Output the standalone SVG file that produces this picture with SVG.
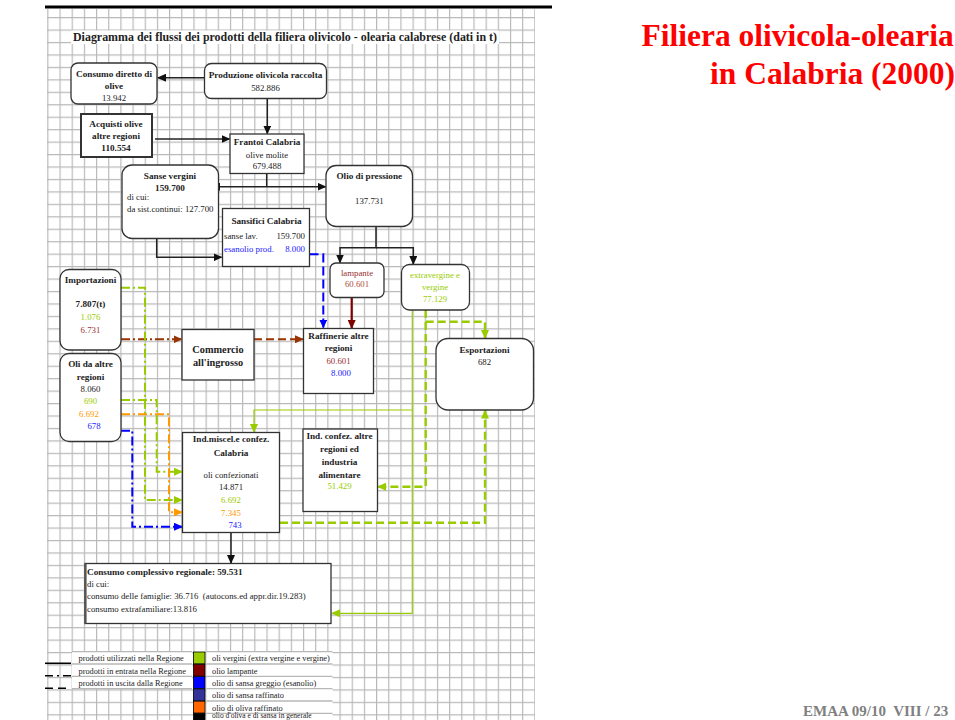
<svg xmlns="http://www.w3.org/2000/svg" width="955" height="720" viewBox="0 0 955 720">
<style>
text{font-family:"Liberation Serif","Times New Roman",serif;fill:#222}
.b{font-weight:bold;font-size:9.2px}
.r{font-size:8.8px}
.m{text-anchor:middle}
.e{text-anchor:end}
.g{fill:#99cc00}
.o{fill:#ff9900}
.bl{fill:#2222ff}
.dr{fill:#993333}
.box{fill:#fff;stroke:#333;stroke-width:1.3}
.k{fill:none;stroke:#222;stroke-width:1.5}
.lg{font-size:8.3px}
</style>
<defs>
<pattern id="grid" width="12.175" height="12.45" patternUnits="userSpaceOnUse" x="47.3" y="4.6">
<path d="M0,0.5H12.175M0.5,0V12.45" fill="none" stroke="#b8b8b8" stroke-width="1.3"/>
</pattern>
<marker id="ak" markerWidth="9" markerHeight="8" refX="8" refY="4" orient="auto" markerUnits="userSpaceOnUse"><path d="M0,0L9,4L0,8z" fill="#111"/></marker>
<marker id="akr" markerWidth="9" markerHeight="8" refX="1" refY="4" orient="auto-start-reverse" markerUnits="userSpaceOnUse"><path d="M0,0L9,4L0,8z" fill="#111"/></marker>
<marker id="ag" markerWidth="9" markerHeight="8" refX="8" refY="4" orient="auto" markerUnits="userSpaceOnUse"><path d="M0,0L9,4L0,8z" fill="#99cc00"/></marker>
<marker id="ao" markerWidth="9" markerHeight="8" refX="8" refY="4" orient="auto" markerUnits="userSpaceOnUse"><path d="M0,0L9,4L0,8z" fill="#ff9900"/></marker>
<marker id="ab" markerWidth="9" markerHeight="8" refX="8" refY="4" orient="auto" markerUnits="userSpaceOnUse"><path d="M0,0L9,4L0,8z" fill="#0000ff"/></marker>
<marker id="ad" markerWidth="9" markerHeight="8" refX="8" refY="4" orient="auto" markerUnits="userSpaceOnUse"><path d="M0,0L9,4L0,8z" fill="#800000"/></marker>
<marker id="an" markerWidth="9" markerHeight="8" refX="8" refY="4" orient="auto" markerUnits="userSpaceOnUse"><path d="M0,0L9,4L0,8z" fill="#993300"/></marker>
</defs>
<rect width="955" height="720" fill="#fff"/>
<rect x="47" y="9" width="488" height="711" fill="url(#grid)"/>
<rect x="45" y="5.5" width="507" height="3" fill="#000"/>
<rect x="71" y="30.5" width="428" height="13.5" fill="#fff"/>
<text x="73" y="41" style="font-weight:bold;font-size:11.8px" textLength="424" lengthAdjust="spacingAndGlyphs">Diagramma dei flussi dei prodotti della filiera olivicolo - olearia calabrese (dati in t)</text>

<g id="connectors">
<path class="k" d="M204.5,77.7H158" marker-end="url(#ak)"/>
<path class="k" d="M267.3,98.5V133.5" marker-end="url(#ak)"/>
<path class="k" d="M155,139H229.5" marker-end="url(#ak)"/>
<path class="k" d="M266.7,173.5V186.7"/>
<path class="k" d="M219,186.7H325.5" marker-start="url(#akr)" marker-end="url(#ak)"/>
<path class="k" d="M156.7,238.5V257.3H221.5" marker-end="url(#ak)"/>
<path class="k" d="M376,227V247.7H340V262.5" marker-end="url(#ak)"/>
<path class="k" d="M376,247.7H413.3V264" marker-end="url(#ak)"/>
<path d="M309.5,254.3H323.3V327.5" fill="none" stroke="#0000ff" stroke-width="2" stroke-dasharray="9,4" marker-end="url(#ab)"/>
<path d="M351.7,297.5V328" fill="none" stroke="#800000" stroke-width="2.2" marker-end="url(#ad)"/>
<path d="M121,339.3H181.5" fill="none" stroke="#993300" stroke-width="2" stroke-dasharray="9,3,2,3" marker-end="url(#an)"/>
<path d="M254,339.3H303" fill="none" stroke="#993300" stroke-width="2" stroke-dasharray="8,4" marker-end="url(#an)"/>
<path d="M121,287.7H145V500H182" fill="none" stroke="#99cc00" stroke-width="2" stroke-dasharray="9,3,2,3" marker-end="url(#ag)"/>
<path d="M121,400H156.7V471.7H182" fill="none" stroke="#99cc00" stroke-width="2" stroke-dasharray="9,3,2,3" marker-end="url(#ag)"/>
<path d="M121,414.3H169V512.3H182" fill="none" stroke="#ff9900" stroke-width="2" stroke-dasharray="9,3,2,3" marker-end="url(#ao)"/>
<path d="M121,430.7H132.3V526.7H182" fill="none" stroke="#0000ff" stroke-width="2" stroke-dasharray="9,3,2,3" marker-end="url(#ab)"/>
<path d="M412.3,310V613.3H332" fill="none" stroke="#99cc00" stroke-width="1.2" marker-end="url(#ag)"/>
<path d="M412.3,410H254V432" fill="none" stroke="#99cc00" stroke-width="1.2" marker-end="url(#ag)"/>
<path d="M425.7,310V486.7H378" fill="none" stroke="#99cc00" stroke-width="2.4" stroke-dasharray="8,4" marker-end="url(#ag)"/>
<path d="M425.7,321.7H485V338" fill="none" stroke="#99cc00" stroke-width="2.4" stroke-dasharray="8,4" marker-end="url(#ag)"/>
<path d="M280,522.7H485V410.5" fill="none" stroke="#99cc00" stroke-width="2.4" stroke-dasharray="8,4" marker-end="url(#ag)"/>
<path class="k" d="M231,533V563" marker-end="url(#ak)"/>
</g>

<g id="consumo-diretto">
<rect class="box" x="71" y="63" width="86" height="41" rx="7"/>
<text class="b m" x="114" y="76.5">Consumo diretto di</text>
<text class="b m" x="114" y="89">olive</text>
<text class="r m" x="114" y="101">13.942</text>
</g>
<g id="produzione">
<rect class="box" x="204.5" y="63.5" width="122" height="35" rx="7"/>
<text class="b m" x="265.5" y="78">Produzione olivicola raccolta</text>
<text class="r m" x="265.5" y="91">582.886</text>
</g>
<g id="acquisti">
<rect class="box" x="81" y="114" width="71" height="43" style="stroke-width:2"/>
<text class="b m" x="116" y="126.5">Acquisti olive</text>
<text class="b m" x="116" y="139">altre regioni</text>
<text class="b m" x="116" y="150.5">110.554</text>
</g>
<g id="frantoi">
<rect class="box" x="230" y="134" width="74" height="39.5"/>
<text class="b m" x="267" y="145">Frantoi Calabria</text>
<text class="r m" x="267" y="158">olive molite</text>
<text class="r m" x="267" y="169">679.488</text>
</g>
<g id="sanse-vergini">
<rect class="box" x="122" y="165" width="96.5" height="73.5" rx="10"/>
<text class="b m" x="170" y="179">Sanse vergini</text>
<text class="b m" x="170" y="191">159.700</text>
<text class="r" x="127" y="200">di cui:</text>
<text class="r" x="127" y="212">da sist.continui: 127.700</text>
</g>
<g id="olio-pressione">
<rect class="box" x="326" y="165.5" width="86.5" height="61" rx="10"/>
<text class="b m" x="369.3" y="179">Olio di pressione</text>
<text class="r m" x="369.3" y="204">137.731</text>
</g>
<g id="sansifici">
<rect class="box" x="222.5" y="208.5" width="87" height="58"/>
<text class="b m" x="266.5" y="224">Sansifici Calabria</text>
<text class="r" x="224" y="239">sanse lav.</text>
<text class="r e" x="305" y="239">159.700</text>
<text class="r bl" x="224" y="251.5">esanolio prod.</text>
<text class="r e bl" x="305" y="251.5">8.000</text>
</g>
<g id="lampante">
<rect class="box" x="330" y="263" width="54" height="34.5" rx="6"/>
<text class="r m dr" x="357" y="275.5">lampante</text>
<text class="r m" x="357" y="287" style="fill:#b0503a">60.601</text>
</g>
<g id="extravergine">
<rect class="box" x="401.5" y="264.5" width="68" height="45.5" rx="8"/>
<text class="r m g" x="435" y="278">extravergine e</text>
<text class="r m g" x="435" y="289.5">vergine</text>
<text class="r m g" x="435" y="301.5">77.129</text>
</g>
<g id="importazioni">
<rect class="box" x="60" y="269.5" width="61" height="80.5" rx="9"/>
<text class="b m" x="90.5" y="283">Importazioni</text>
<text class="b m" x="90.5" y="306.5">7.807(t)</text>
<text class="r m g" x="90.5" y="320">1.076</text>
<text class="r m dr" x="90.5" y="333">6.731</text>
</g>
<g id="oli-altre-regioni">
<rect class="box" x="60" y="353.5" width="61" height="88" rx="9"/>
<text class="b m" x="90.5" y="367">Oli da altre</text>
<text class="b m" x="90.5" y="380">regioni</text>
<text class="r m" x="90.5" y="392">8.060</text>
<text class="r m g" x="90.5" y="404">690</text>
<text class="r m o" x="89" y="417">6.692</text>
<text class="r m bl" x="94" y="429">678</text>
</g>
<g id="commercio">
<rect class="box" x="182" y="329.5" width="72" height="50.5"/>
<text class="m" x="218" y="353" style="font-weight:bold;font-size:10.3px">Commercio</text>
<text class="m" x="218" y="365.5" style="font-weight:bold;font-size:10.3px">all'ingrosso</text>
</g>
<g id="raffinerie">
<rect class="box" x="303.5" y="328.5" width="70" height="65"/>
<text class="b m" x="338.5" y="338.5">Raffinerie altre</text>
<text class="b m" x="338.5" y="351">regioni</text>
<text class="r m dr" x="338.5" y="364">60.601</text>
<text class="r m bl" x="341" y="376">8.000</text>
</g>
<g id="esportazioni">
<rect class="box" x="436" y="338.5" width="97.5" height="71.5" rx="12"/>
<text class="b m" x="484.5" y="352.5">Esportazioni</text>
<text class="r m" x="484.5" y="365">682</text>
</g>
<g id="ind-miscel">
<rect class="box" x="182.5" y="432.5" width="97" height="100"/>
<text class="b m" x="231" y="442">Ind.miscel.e confez.</text>
<text class="b m" x="231" y="455.5">Calabria</text>
<text class="r m" x="231" y="478">oli confezionati</text>
<text class="r m" x="231" y="490">14.871</text>
<text class="r m g" x="231" y="503">6.692</text>
<text class="r m o" x="231" y="515.5">7.345</text>
<text class="r m bl" x="235" y="528">743</text>
</g>
<g id="ind-confez">
<rect class="box" x="303" y="429" width="74.5" height="82.5"/>
<text class="b m" x="339.5" y="439">Ind. confez. altre</text>
<text class="b m" x="339.5" y="452">regioni ed</text>
<text class="b m" x="339.5" y="465">industria</text>
<text class="b m" x="339.5" y="477.5">alimentare</text>
<text class="r m g" x="339.5" y="489">51.429</text>
</g>
<g id="consumo-complessivo">
<rect class="box" x="85" y="563.5" width="246" height="60"/>
<path d="M85.5,563.5V623.5" stroke="#555" stroke-width="2.2"/>
<text class="b" x="87" y="575">Consumo complessivo regionale: 59.531</text>
<text class="r" x="87" y="586.5">di cui:</text>
<text class="r" x="87" y="599" xml:space="preserve">consumo delle famiglie: 36.716  (autocons.ed appr.dir.19.283)</text>
<text class="r" x="87" y="611.5">consumo extrafamiliare:13.816</text>
</g>

<g id="legend">
<rect x="72" y="651.7" width="120" height="37" fill="#fff"/>
<rect x="206.5" y="651.7" width="126" height="70" fill="#fff"/>
<path d="M72,651.7H192M72,664H192M72,676.3H192M72,688.7H192M206.5,651.7H332.5M206.5,664H332.5M206.5,676.3H332.5M206.5,688.7H332.5M206.5,701H332.5M206.5,713.3H332.5" stroke="#b8b8b8" stroke-width="1.3"/>
<path d="M45,663.3H71" stroke="#000" stroke-width="1.6"/>
<path d="M45,675.7H71" stroke="#000" stroke-width="1.6" stroke-dasharray="8,4,2,4"/>
<path d="M45,688.3H71" stroke="#000" stroke-width="1.6" stroke-dasharray="8,5"/>
<text class="lg" x="78.5" y="661">prodotti utilizzati nella Regione</text>
<text class="lg" x="78.5" y="673.5">prodotti in entrata nella Regione</text>
<text class="lg" x="78.5" y="686">prodotti in uscita dalla Regione</text>
<g stroke="#000" stroke-width="0.8">
<rect x="193.5" y="652" width="11.5" height="11.8" fill="#99cc00"/>
<rect x="193.5" y="664.3" width="11.5" height="11.8" fill="#800000"/>
<rect x="193.5" y="676.6" width="11.5" height="11.8" fill="#0000ff"/>
<rect x="193.5" y="688.9" width="11.5" height="11.8" fill="#333399"/>
<rect x="193.5" y="701.2" width="11.5" height="11.8" fill="#ff6600"/>
<rect x="193.5" y="713.5" width="11.5" height="11.8" fill="#000"/>
</g>
<text class="lg" x="212" y="661">oli vergini (extra vergine e vergine)</text>
<text class="lg" x="212" y="673.5">olio lampante</text>
<text class="lg" x="212" y="686">olio di sansa greggio (esanolio)</text>
<text class="lg" x="212" y="698">olio di sansa raffinato</text>
<text class="lg" x="212" y="710.5">olio di oliva raffinato</text>
<text x="212" y="718" style="font-size:7.5px">olio d'oliva e di sansa in generale</text>
</g>

<text x="641.5" y="46" style="font-weight:bold;font-size:31.5px;fill:#ff0000">Filiera olivicola-olearia</text>
<text x="710" y="84" style="font-weight:bold;font-size:31.5px;fill:#ff0000">in Calabria (2000)</text>
<text x="803" y="716" style="font-weight:bold;font-size:15px;fill:#808080" xml:space="preserve">EMAA 09/10  VIII / 23</text>
</svg>
